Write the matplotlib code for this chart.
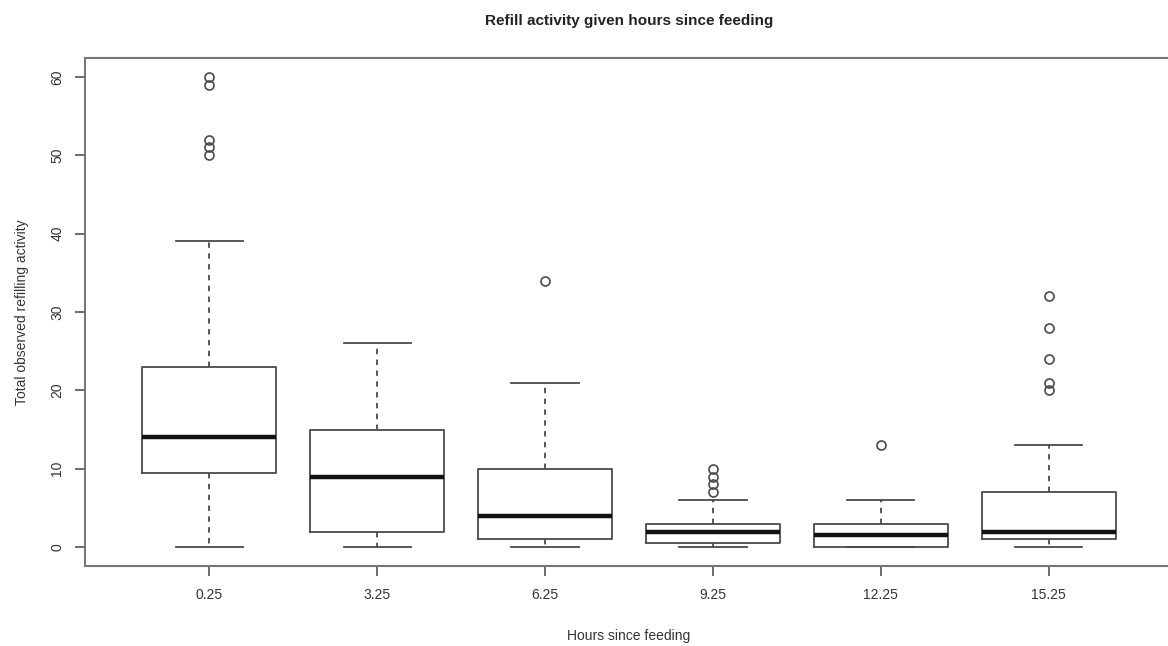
import matplotlib
matplotlib.use("Agg")
import matplotlib.pyplot as plt

plt.rcParams['font.family'] = ['Liberation Sans', 'DejaVu Sans']

categories = ["0.25", "3.25", "6.25", "9.25", "12.25", "15.25"]
whisker_low = [0, 0, 0, 0, 0, 0]
q1 = [9.5, 2, 1, 0.5, 0, 1]
median = [14, 9, 4, 2, 1.5, 2]
q3 = [23, 15, 10, 3, 3, 7]
whisker_high = [39, 26, 21, 6, 6, 13]
outliers = [
    [50, 51, 52, 59, 60],
    [],
    [34],
    [7, 8, 9, 10],
    [13],
    [20, 21, 24, 28, 32],
]

W, H = 1168, 646
fig = plt.figure(figsize=(W / 100, H / 100), dpi=100)
left, right, top, bottom = 85, 1173, 58, 566
ax = fig.add_axes([left / W, 1 - bottom / H, (right - left) / W, (bottom - top) / H])

stats = []
for i, c in enumerate(categories):
    stats.append(dict(label=c, whislo=whisker_low[i], q1=q1[i], med=median[i],
                      q3=q3[i], whishi=whisker_high[i], fliers=outliers[i]))

lc = '#4a4a4a'
ax.bxp(stats, positions=range(1, len(categories) + 1), widths=0.8,
       showfliers=True,
       boxprops=dict(color=lc, linewidth=1.3),
       medianprops=dict(color='#111111', linewidth=3.2, solid_capstyle='butt'),
       whiskerprops=dict(color=lc, linewidth=1.3, linestyle=(0, (3, 3))),
       capprops=dict(color=lc, linewidth=1.3),
       capwidths=0.4,
       flierprops=dict(marker='o', markerfacecolor='none', markeredgecolor=lc,
                       markersize=6.5, markeredgewidth=1.2, linestyle='none'))

ax.set_xlim(0.26, 6.74)
ax.set_ylim(-2.4, 62.4)
ax.set_yticks([0, 10, 20, 30, 40, 50, 60])
ax.set_xticks(range(1, 7))
ax.set_xticklabels(categories)
for lab in ax.get_yticklabels():
    lab.set_rotation(90)
    lab.set_va('center')
ax.tick_params(axis='both', colors='#444444', labelcolor='#333333', length=7,
               width=1.1, labelsize=10)
ax.tick_params(axis='y', pad=8)
ax.tick_params(axis='x', pad=9)
for s in ax.spines.values():
    s.set_color('#777777')
    s.set_linewidth(1.5)

ax.set_xlabel("Hours since feeding", fontsize=10, color='#333333', labelpad=19)
ax.set_ylabel("Total observed refilling activity", fontsize=10, color='#333333', labelpad=15)
fig.text(629 / W, 1 - 21 / H, "Refill activity given hours since feeding",
         ha='center', va='center', fontsize=11, fontweight='bold', color='#222222')

fig.savefig("out.png", dpi=100, facecolor='white')
